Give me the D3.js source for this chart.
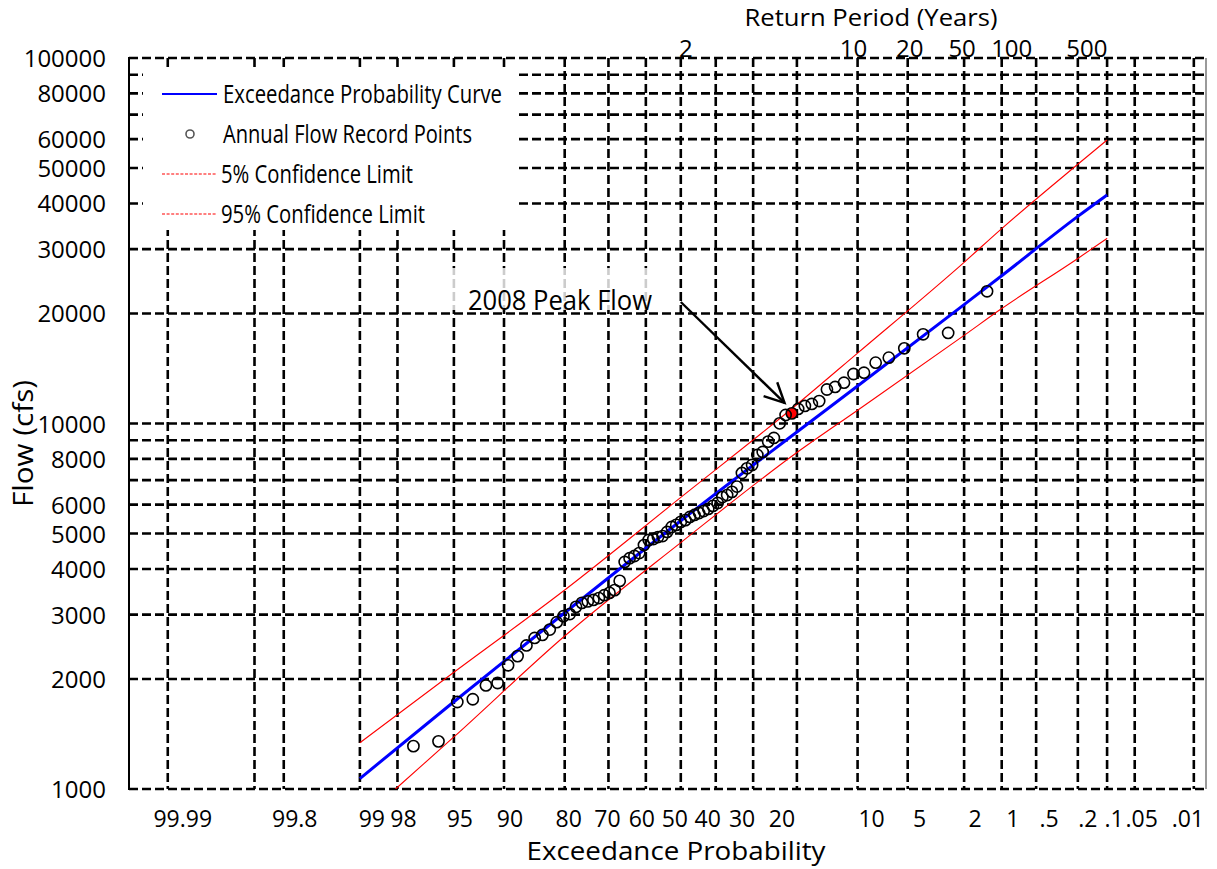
<!DOCTYPE html>
<html><head><meta charset="utf-8">
<script src="https://cdn.jsdelivr.net/npm/d3@7"></script>
<style>
body{margin:0;background:#fff}
svg{display:block}
text{font-family:"Open Sans","Noto Sans",sans-serif;fill:#000}
</style>
</head><body>
<svg id="chart" width="1217" height="869"></svg>
<script>
// ---------------- DATA ----------------
// Annual peak flow record points (exceedance probability %, flow cfs)
const pointExceedance = [1.32,2.63,3.95,5.26,6.58,7.89,9.21,10.53,11.84,13.16,14.47,15.79,17.11,18.42,19.74,21.05,22.37,23.68,25.00,26.32,27.63,28.95,30.26,31.58,32.89,34.21,35.53,36.84,38.16,39.47,40.79,42.11,43.42,44.74,46.05,47.37,48.68,50.00,51.32,52.63,53.95,55.26,56.58,57.89,59.21,60.53,61.84,63.16,64.47,65.79,67.11,68.42,69.74,71.05,72.37,73.68,75.00,76.32,77.63,78.95,80.26,81.58,82.89,84.21,85.53,86.84,88.16,89.47,90.79,92.11,93.42,94.74,96.05,97.37];
const pointFlow = [23000,17690,17540,16060,15140,14670,13770,13660,12930,12590,12390,11520,11310,11170,10960,10660,10550,10010,9130,8920,8360,8200,7700,7540,7320,6720,6500,6370,6290,6060,5950,5840,5760,5690,5620,5550,5440,5380,5280,5210,5050,4920,4890,4830,4800,4650,4420,4340,4280,4180,3710,3500,3440,3390,3330,3290,3260,3230,3150,3010,2970,2860,2730,2640,2590,2470,2310,2180,1950,1920,1760,1730,1350,1310];
const peakFlow2008 = 10660;

// Exceedance probability curve
const curveExceedance = [99,95,80,50,20,10,2,1,0.2,0.1];
const curveFlow = [1068,1733,3036,5420,9479,12665,21150,25370,36870,42190];
// 5% confidence limit (upper)
const upperExceedance = [99,95,80,50,20,10,2,1,0.2,0.1];
const upperFlow = [1338,2086,3502,6278,11273,15581,27610,34140,51200,59660];
// 95% confidence limit (lower)
const lowerExceedance = [99,98,95,80,50,20,10,2,1,0.2,0.1];
const lowerFlow = [817,1011,1388,2622,4722,8330,10875,17420,20630,28290,32110];

// Axes
const xGridValues = [99.99,99.9,99.8,99,98,95,90,80,70,60,50,40,30,20,10,5,2,1,0.5,0.2,0.1,0.05,0.01];
const xTickValues = [99.99,99.8,99,98,95,90,80,70,60,50,40,30,20,10,5,2,1,0.5,0.2,0.1,0.05,0.01];
const xTickLabels = ["99.99","99.8","99","98","95","90","80","70","60","50","40","30","20","10","5","2","1",".5",".2",".1",".05",".01"];
const yGridValues = [1000,2000,3000,4000,5000,6000,7000,8000,9000,10000,20000,30000,40000,50000,60000,70000,80000,90000,100000];
const yTickValues = [1000,2000,3000,4000,5000,6000,8000,10000,20000,30000,40000,50000,60000,80000,100000];
const returnPeriods = [2,10,20,50,100,500];

const legendLabels = ["Exceedance Probability Curve","Annual Flow Record Points","5% Confidence Limit","95% Confidence Limit"];
const annotationText = "2008 Peak Flow";
const arrowFrom = [50, 21500];
const arrowTo = [22.6, 11380];

// ---------------- LAYOUT / STYLE ----------------
// small horizontal nudges of the hand-placed tick label text boxes (px)
const xLabelNudge = [15,11,12,6,6,6,4,-1,-4,-6,-8,-11,-15,14,12,11,11,13,10,7,7,-6];
const topLabelNudge = [5,-4,2,-2,10,9];

function qnorm(p){
  const a=[-3.969683028665376e+01,2.209460984245205e+02,-2.759285104469687e+02,1.383577518672690e+02,-3.066479806614716e+01,2.506628277459239e+00];
  const b=[-5.447609879822406e+01,1.615858368580409e+02,-1.556989798598866e+02,6.680131188771972e+01,-1.328068155288572e+01];
  const c=[-7.784894002430293e-03,-3.223964580411365e-01,-2.400758277161838e+00,-2.549732539343734e+00,4.374664141464968e+00,2.938163982698783e+00];
  const d=[7.784695709041462e-03,3.224671290700398e-01,2.445134137142996e+00,3.754408661907416e+00];
  const pl=0.02425, ph=1-pl; let q,r;
  if(p<pl){q=Math.sqrt(-2*Math.log(p));return (((((c[0]*q+c[1])*q+c[2])*q+c[3])*q+c[4])*q+c[5])/((((d[0]*q+d[1])*q+d[2])*q+d[3])*q+1);}
  if(p<=ph){q=p-0.5;r=q*q;return (((((a[0]*r+a[1])*r+a[2])*r+a[3])*r+a[4])*r+a[5])*q/(((((b[0]*r+b[1])*r+b[2])*r+b[3])*r+b[4])*r+1);}
  q=Math.sqrt(-2*Math.log(1-p));return -(((((c[0]*q+c[1])*q+c[2])*q+c[3])*q+c[4])*q+c[5])/((((d[0]*q+d[1])*q+d[2])*q+d[3])*q+1);
}

const L=129, R=1205, T=58, B=789;
const zScale = d3.scaleLinear().domain([-4,3.8]).range([L,R]);
const x = e => zScale(qnorm(1 - e/100));
const y = d3.scaleLog().domain([1000,100000]).range([B,T]);

const svg = d3.select("#chart");
svg.append("defs").append("clipPath").attr("id","plotclip")
  .append("rect").attr("x",L).attr("y",T).attr("width",R-L).attr("height",B-T);

// grid
const grid = svg.append("g").attr("stroke","#000").attr("stroke-width",2.6).attr("stroke-dasharray","9,4").attr("fill","none");
grid.selectAll("line.h").data(yGridValues).join("line").attr("class","h")
  .attr("x1",L).attr("x2",R+1).attr("y1",d=>y(d)).attr("y2",d=>y(d));
grid.selectAll("line.v").data(xGridValues).join("line").attr("class","v")
  .attr("x1",d=>x(d)).attr("x2",d=>x(d)).attr("y1",T).attr("y2",B);

// frame
svg.append("line").attr("x1",L).attr("x2",L).attr("y1",T-1).attr("y2",B+1).attr("stroke","#000").attr("stroke-width",2);
svg.append("line").attr("x1",R+1).attr("x2",R+1).attr("y1",T).attr("y2",B).attr("stroke","#9a9a9a").attr("stroke-width",2);

// legend box (white) covering grid
const lg = svg.append("g");
lg.append("rect").attr("x",143).attr("y",71).attr("width",376).attr("height",159).attr("fill","#fff");

// annotation box
svg.append("rect").attr("x",400).attr("y",268).attr("width",262).attr("height",42).attr("fill","#fff").attr("opacity",0.8);

// curves
const line = d3.line().x(d=>x(d[0])).y(d=>y(d[1])).curve(d3.curveMonotoneX);
const plot = svg.append("g").attr("clip-path","url(#plotclip)");
plot.append("path").datum(upperExceedance.map((e,i)=>[e,upperFlow[i]]))
  .attr("d",line).attr("fill","none").attr("stroke","#ff0000").attr("stroke-width",1.1);
plot.append("path").datum(lowerExceedance.map((e,i)=>[e,lowerFlow[i]]))
  .attr("d",line).attr("fill","none").attr("stroke","#ff0000").attr("stroke-width",1.1);
plot.append("path").datum(curveExceedance.map((e,i)=>[e,curveFlow[i]]))
  .attr("d",line).attr("fill","none").attr("stroke","#0000ff").attr("stroke-width",3);

// points
const pts = pointExceedance.map((e,i)=>({e, f:pointFlow[i]}));
plot.selectAll("circle.pt").data(pts).join("circle").attr("class","pt")
  .attr("cx",d=>x(d.e)).attr("cy",d=>y(d.f)).attr("r",5.6)
  .attr("fill",d=>d.f===peakFlow2008?"#ff0000":"none")
  .attr("stroke","#000").attr("stroke-width",1.6);

// legend contents
const legY=[94,134,174,214];
lg.append("line").attr("x1",162).attr("x2",217).attr("y1",legY[0]).attr("y2",legY[0]).attr("stroke","#0000ff").attr("stroke-width",2);
lg.append("circle").attr("cx",190).attr("cy",legY[1]).attr("r",4).attr("fill","none").attr("stroke","#555").attr("stroke-width",1.6);
[2,3].forEach(i=>lg.append("line").attr("x1",162).attr("x2",217).attr("y1",legY[i]).attr("y2",legY[i])
  .attr("stroke","#ff0000").attr("stroke-width",1.2).attr("stroke-dasharray","3,1.6"));
const legLen=[279,249,192,204];
const legX=[223,223,221,221];
legendLabels.forEach((t,i)=>lg.append("text").attr("x",legX[i]).attr("y",legY[i]+9).attr("font-size",25)
  .attr("textLength",legLen[i]).attr("lengthAdjust","spacingAndGlyphs").attr("fill","#111").text(t));

// annotation
svg.append("text").attr("x",468).attr("y",310).attr("font-size",27).attr("textLength",184)
  .attr("lengthAdjust","spacingAndGlyphs").text(annotationText);
const ax1=x(arrowFrom[0]), ay1=y(arrowFrom[1]), ax2=x(arrowTo[0]), ay2=y(arrowTo[1]);
const ag = svg.append("g").attr("stroke","#000").attr("stroke-width",2.4).attr("fill","none");
ag.append("line").attr("x1",ax1).attr("y1",ay1).attr("x2",ax2).attr("y2",ay2);
const ang=Math.atan2(ay1-ay2,ax1-ax2), hl=22, ha=0.46;
ag.append("path").attr("d",`M${ax2+hl*Math.cos(ang+ha)},${ay2+hl*Math.sin(ang+ha)}L${ax2},${ay2}L${ax2+hl*Math.cos(ang-ha)},${ay2+hl*Math.sin(ang-ha)}`);

// y tick labels
svg.append("g").selectAll("text").data(yTickValues).join("text")
  .attr("x",106).attr("y",d=>y(d)+9).attr("text-anchor","end").attr("font-size",24).text(d=>d);

// x tick labels
svg.append("g").selectAll("text").data(xTickValues).join("text")
  .attr("x",(d,i)=>x(d)+xLabelNudge[i]).attr("y",827).attr("text-anchor","middle").attr("font-size",23)
  .text((d,i)=>xTickLabels[i]);

// return period labels (top)
svg.append("g").selectAll("text").data(returnPeriods).join("text")
  .attr("x",(d,i)=>x(100/d)+topLabelNudge[i]).attr("y",57).attr("text-anchor","middle").attr("font-size",24).text(d=>d);

// titles
svg.append("text").attr("x",871).attr("y",26).attr("text-anchor","middle").attr("font-size",23)
  .attr("textLength",253).attr("lengthAdjust","spacingAndGlyphs").text("Return Period (Years)");
svg.append("text").attr("x",676).attr("y",860).attr("text-anchor","middle").attr("font-size",26)
  .attr("textLength",299).attr("lengthAdjust","spacingAndGlyphs").text("Exceedance Probability");
svg.append("text").attr("transform","translate(33,507) rotate(-90)").attr("font-size",27)
  .attr("textLength",127).attr("lengthAdjust","spacingAndGlyphs").text("Flow (cfs)");
</script>
</body></html>
